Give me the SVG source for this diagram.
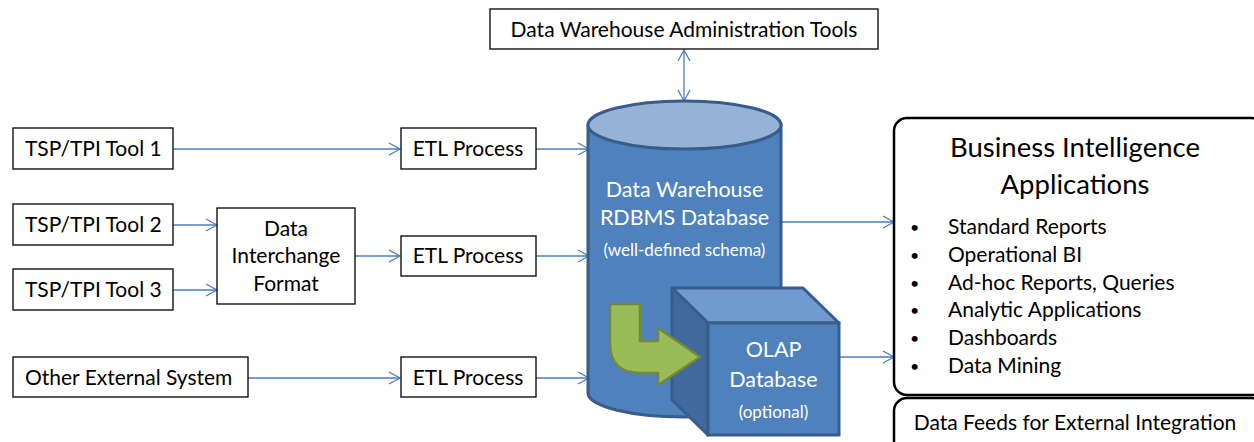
<svg xmlns="http://www.w3.org/2000/svg" width="1254" height="442" viewBox="0 0 1254 442">
<defs>
<style>
.box{fill:#fff;stroke:#000;stroke-width:1.3}
.t{font-family:Lato,"Liberation Sans",sans-serif;font-size:21px;fill:#000}
.big{font-size:27.5px}
.bul{font-size:16px}
.w{font-family:Lato,"Liberation Sans",sans-serif;fill:#fff;text-anchor:middle;font-size:21.5px}
.ws{font-size:17px}
.c{stroke:#4a7ebb;stroke-width:1.3;fill:none}
.mid{text-anchor:middle}
</style>
<marker id="ah" markerWidth="14" markerHeight="14" refX="12" refY="7" orient="auto" markerUnits="userSpaceOnUse">
<path d="M1,1 L12,7 L1,13" fill="none" stroke="#4a7ebb" stroke-width="1.3"/>
</marker>
<marker id="as" markerWidth="14" markerHeight="14" refX="12" refY="7" orient="auto-start-reverse" markerUnits="userSpaceOnUse">
<path d="M1,1 L12,7 L1,13" fill="none" stroke="#4a7ebb" stroke-width="1.3"/>
</marker>
</defs>
<rect width="1254" height="442" fill="#fff"/>

<g id="connectors">
<line class="c" x1="684" y1="50" x2="684" y2="101" marker-start="url(#as)" marker-end="url(#as)"/>
<line class="c" x1="173" y1="149" x2="400" y2="149" marker-end="url(#ah)"/>
<line class="c" x1="536" y1="149" x2="589" y2="149" marker-end="url(#ah)"/>
<line class="c" x1="173" y1="225" x2="217" y2="225" marker-end="url(#ah)"/>
<line class="c" x1="173" y1="290" x2="217" y2="290" marker-end="url(#ah)"/>
<line class="c" x1="355" y1="256" x2="400" y2="256" marker-end="url(#ah)"/>
<line class="c" x1="536" y1="256" x2="589" y2="256" marker-end="url(#ah)"/>
<line class="c" x1="248" y1="378" x2="400" y2="378" marker-end="url(#ah)"/>
<line class="c" x1="536" y1="378" x2="589" y2="378" marker-end="url(#ah)"/>
<line class="c" x1="780" y1="222" x2="894" y2="222" marker-end="url(#ah)"/>
<line class="c" x1="840" y1="357" x2="894" y2="357" marker-end="url(#ah)"/>
</g>

<g id="admin">
<rect class="box" x="490" y="9" width="388" height="40"/>
<text class="t mid" x="684" y="37">Data Warehouse Administration Tools</text>
</g>

<g id="tool1">
<rect class="box" x="13" y="128" width="160" height="41"/>
<text class="t" x="25" y="156">TSP/TPI Tool 1</text>
</g>
<g id="tool2">
<rect class="box" x="13" y="204" width="160" height="41"/>
<text class="t" x="25" y="232">TSP/TPI Tool 2</text>
</g>
<g id="tool3">
<rect class="box" x="13" y="269" width="160" height="41"/>
<text class="t" x="25" y="297">TSP/TPI Tool 3</text>
</g>
<g id="dif">
<rect class="box" x="217" y="208" width="138" height="96"/>
<text class="t mid" x="286" y="236">Data</text>
<text class="t mid" x="286" y="263">Interchange</text>
<text class="t mid" x="286" y="291">Format</text>
</g>
<g id="other">
<rect class="box" x="13" y="357" width="235" height="40"/>
<text class="t" x="25" y="385">Other External System</text>
</g>
<g id="etl1">
<rect class="box" x="401" y="128" width="135" height="41"/>
<text class="t mid" x="468" y="156">ETL Process</text>
</g>
<g id="etl2">
<rect class="box" x="401" y="236" width="135" height="40"/>
<text class="t mid" x="468" y="263">ETL Process</text>
</g>
<g id="etl3">
<rect class="box" x="401" y="357" width="135" height="40"/>
<text class="t mid" x="468" y="385">ETL Process</text>
</g>

<g id="warehouse">
<path d="M588,125 L588,393 A96.5,24 0 0 0 781,393 L781,125 Z" fill="#4f81bd" stroke="#385d8a" stroke-width="3"/>
<ellipse cx="684.5" cy="125" rx="96.5" ry="24" fill="#95b3d7" stroke="#385d8a" stroke-width="3"/>
<text class="w" x="684.5" y="197">Data Warehouse</text>
<text class="w" x="684.5" y="225">RDBMS Database</text>
<text class="w ws" x="684.5" y="256">(well-defined schema)</text>
</g>

<g id="olap">
<polygon points="672,288 803,288 839,323 708,323" fill="#6f9bd0" stroke="#385d8a" stroke-width="3" stroke-linejoin="round"/>
<polygon points="672,288 708,323 708,435 672,400" fill="#40699d" stroke="#385d8a" stroke-width="3" stroke-linejoin="round"/>
<rect x="708" y="323" width="131" height="112" fill="#4f81bd" stroke="#385d8a" stroke-width="3"/>
<text class="w" x="773.5" y="357">OLAP</text>
<text class="w" x="773.5" y="387">Database</text>
<text class="w ws" x="773.5" y="418">(optional)</text>
</g>

<g id="green-arrow">
<path d="M610,304 L640,304 L640,341 L658,341 L658,328 L700,357 L658,385 L658,373 L640,373 Q610,373 610,343 Z" fill="#9bbb59" stroke="#71893f" stroke-width="2.5" stroke-linejoin="round"/>
</g>

<g id="bi">
<rect x="894" y="118" width="370" height="277" rx="13" fill="#fff" stroke="#000" stroke-width="2.5"/>
<text class="t mid big" x="1075" y="157">Business Intelligence</text>
<text class="t mid big" x="1075" y="194">Applications</text>
<g class="t">
<text class="bul" x="910" y="233">•</text><text x="948" y="234">Standard Reports</text>
<text class="bul" x="910" y="261">•</text><text x="948" y="262">Operational BI</text>
<text class="bul" x="910" y="289">•</text><text x="948" y="290">Ad-hoc Reports, Queries</text>
<text class="bul" x="910" y="316">•</text><text x="948" y="317">Analytic Applications</text>
<text class="bul" x="910" y="344">•</text><text x="948" y="345">Dashboards</text>
<text class="bul" x="910" y="372">•</text><text x="948" y="373">Data Mining</text>
</g>
</g>

<g id="feeds">
<rect x="894" y="398" width="370" height="60" rx="13" fill="#fff" stroke="#000" stroke-width="2.5"/>
<text class="t mid" x="1075" y="430">Data Feeds for External Integration</text>
</g>
</svg>
